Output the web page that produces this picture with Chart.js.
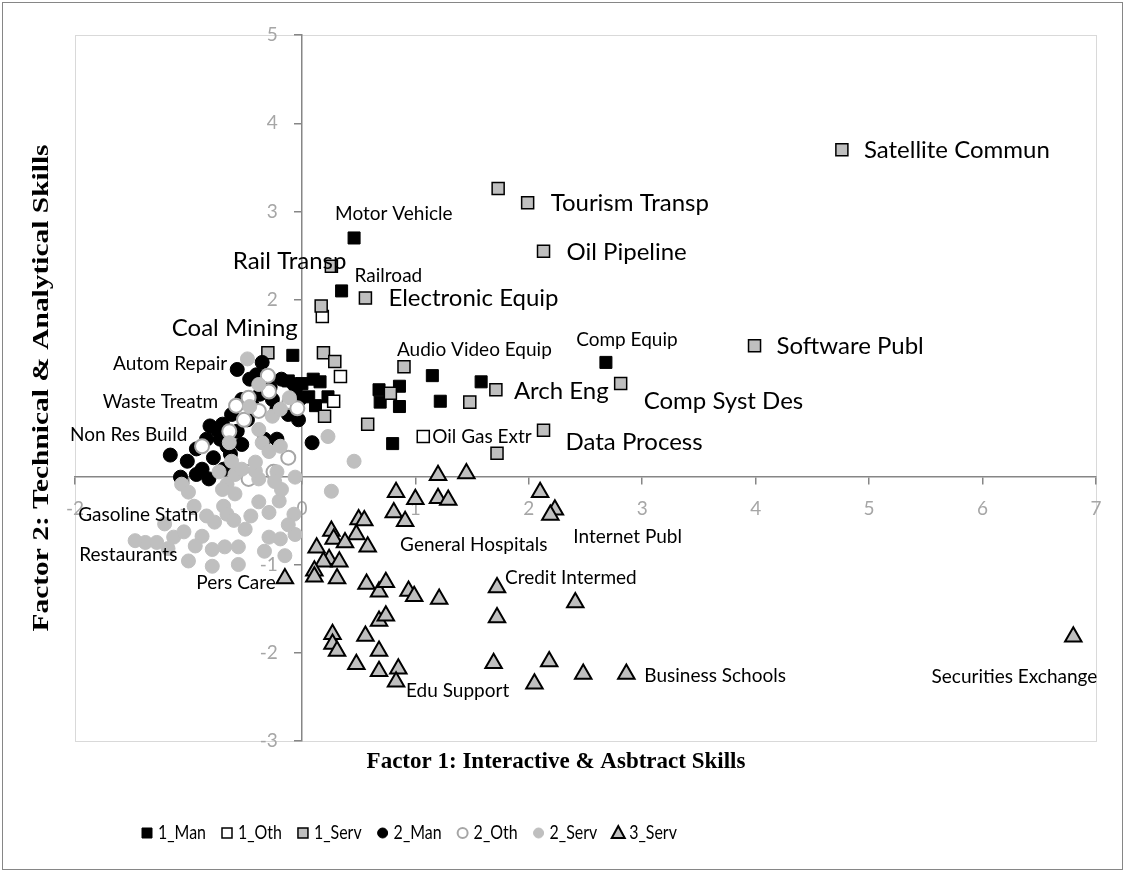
<!DOCTYPE html>
<html>
<head>
<meta charset="utf-8">
<script src="https://cdn.jsdelivr.net/npm/chart.js@4.4.0/dist/chart.umd.min.js"></script>
<style>
  body { margin: 0; background: #fff; }
</style>
</head>
<body>
<canvas id="chart" width="1125" height="872"></canvas>
<script>
// axis ranges
const xMin = -2, xMax = 7
const yMin = -3, yMax = 5

const seriesNames = ['1_Man', '1_Oth', '1_Serv', '2_Man', '2_Oth', '2_Serv', '3_Serv']

// [factor1, factor2] per industry
const man1 = [[0.46,2.70],[0.35,2.10],[-0.08,1.37],[-0.12,1.08],[0.00,1.05],[0.10,1.10],[0.16,1.07],[0.06,0.90],
  [0.12,0.80],[0.23,0.90],[-0.05,0.95],[0.68,0.98],[0.86,1.02],[0.69,0.84],[0.86,0.79],[1.15,1.14],[1.22,0.85],
  [1.58,1.07],[0.80,0.37],[2.68,1.29]]
const oth1 = [[0.18,1.81],[0.34,1.13],[0.28,0.85],[1.07,0.45]]
const serv1 = [[4.76,3.70],[1.73,3.26],[1.99,3.10],[2.13,2.55],[0.26,2.38],[0.56,2.02],[0.17,1.93],[3.99,1.48],
  [-0.30,1.40],[0.19,1.40],[0.29,1.30],[0.90,1.24],[0.78,0.94],[0.20,0.68],[0.58,0.59],[1.71,0.98],[1.48,0.84],
  [2.81,1.05],[2.13,0.52],[1.72,0.26]]
const man2 = [[-0.57,1.21],[-0.35,1.29],[-1.16,0.24],[0.09,0.38],[-0.22,0.42],[-1.07,-0.01],[-0.82,-0.03],[-0.81,0.57],
  [-1.01,0.17],[-0.93,0.31],[-0.84,0.42],[-0.75,0.53],[-0.88,0.08],[-0.78,0.21],[-0.66,0.34],[-0.57,0.51],[-0.48,0.64],
  [-0.44,0.81],[-0.37,0.93],[-0.28,1.01],[-0.53,0.87],[-0.62,0.70],[-0.70,0.59],[-0.46,1.10],[-0.26,0.87],[-0.18,1.10],
  [-0.22,0.76],[-0.09,0.81],[-0.40,1.15],[-0.63,0.25],[-0.53,0.36],[-0.69,0.08],[-0.33,0.42],[-0.07,1.04],[-0.02,0.87],
  [-0.12,0.70],[-0.03,0.64],[-0.72,0.42],[-0.93,0.02]]
const oth2 = [[-0.30,1.14],[-0.58,0.80],[-0.47,0.89],[-0.51,0.64],[-0.38,0.74],[-0.11,0.84],[-0.64,0.51],[-0.88,0.34],
  [-0.12,0.21],[-0.46,0.05],[-0.25,0.05],[-0.04,0.77],[-0.47,-0.03],[-0.29,0.96]]
const serv2 = [[-1.06,-0.09],[-1.00,-0.18],[-0.66,-0.09],[-0.59,-0.20],[-0.69,-0.34],[-0.66,-0.43],[-0.77,-0.52],
  [-1.21,-0.54],[-0.95,-0.34],[-1.38,-0.75],[-1.28,-0.75],[-1.13,-0.69],[-1.04,-0.63],[-0.88,-0.68],[-0.94,-0.79],
  [-0.79,-0.83],[-0.68,-0.80],[-0.56,-0.80],[-1.00,-0.96],[-0.79,-1.02],[-0.56,-1.00],[-0.50,-0.60],[-0.38,-0.29],
  [-0.29,-0.41],[-0.20,-0.28],[-0.29,-0.69],[-0.19,-0.71],[-0.06,-0.66],[-0.07,-0.43],[-0.18,-0.15],[-0.38,-0.03],
  [-0.22,0.05],[-0.06,-0.01],[0.26,-0.17],[-0.59,0.02],[-0.41,0.06],[0.23,0.45],[0.46,0.17],[-0.48,1.33],[-0.38,1.04],
  [-0.46,0.79],[-0.26,0.68],[-0.19,0.76],[-0.11,0.89],[-0.38,0.53],[-0.35,0.38],[-0.29,0.28],[-0.19,0.34],[-0.41,0.16],
  [-0.53,0.08],[-0.73,0.05],[-0.62,0.17],[-0.24,-0.06],[-0.70,-0.15],[-0.64,0.38],[-1.47,-0.73],[-0.84,-0.45],
  [-0.45,-0.45],[-0.12,-0.55],[-0.33,-0.85],[-0.60,-0.50],[-0.15,-0.90],[-1.18,-0.82]]
const serv3 = [[1.20,0.01],[1.45,0.03],[0.83,-0.18],[1.00,-0.26],[1.20,-0.25],[1.29,-0.27],[0.81,-0.41],[0.91,-0.51],
  [0.50,-0.49],[0.55,-0.50],[0.26,-0.62],[0.48,-0.66],[0.28,-0.71],[0.38,-0.75],[0.58,-0.80],[0.13,-0.81],[0.24,-0.94],
  [0.19,-0.97],[0.33,-0.97],[0.11,-1.07],[0.11,-1.14],[0.31,-1.16],[-0.15,-1.16],[0.57,-1.22],[0.68,-1.31],[0.74,-1.20],
  [0.94,-1.30],[0.99,-1.36],[1.21,-1.39],[0.68,-1.64],[0.74,-1.58],[0.27,-1.79],[0.56,-1.81],[0.27,-1.90],[0.31,-1.98],
  [0.68,-1.98],[0.48,-2.13],[0.68,-2.21],[0.85,-2.18],[0.83,-2.33],[2.10,-0.18],[2.23,-0.38],[2.19,-0.44],[1.72,-1.26],
  [2.41,-1.43],[1.72,-1.60],[1.69,-2.12],[2.18,-2.10],[2.05,-2.35],[2.48,-2.24],[2.86,-2.24],[6.80,-1.82]]

// industry names: [series, index of point, text]
const pointNames = [
  ['1_Serv', 0, 'Satellite Commun'], ['1_Serv', 2, 'Tourism Transp'], ['1_Serv', 3, 'Oil Pipeline'],
  ['1_Man', 0, 'Motor Vehicle'], ['1_Serv', 4, 'Rail Transp'], ['1_Man', 1, 'Railroad'],
  ['1_Serv', 5, 'Electronic Equip'], ['1_Man', 2, 'Coal Mining'], ['1_Man', 19, 'Comp Equip'],
  ['1_Serv', 7, 'Software Publ'], ['2_Man', 0, 'Autom Repair'], ['1_Serv', 11, 'Audio Video Equip'],
  ['1_Serv', 15, 'Arch Eng'], ['1_Serv', 17, 'Comp Syst Des'], ['2_Oth', 1, 'Waste Treatm'],
  ['1_Oth', 3, 'Oil Gas Extr'], ['1_Serv', 18, 'Data Process'], ['2_Man', 2, 'Non Res Build'],
  ['2_Serv', 1, 'Gasoline Statn'], ['2_Serv', 9, 'Restaurants'], ['3_Serv', 22, 'Pers Care'],
  ['3_Serv', 7, 'General Hospitals'], ['3_Serv', 42, 'Internet Publ'], ['3_Serv', 43, 'Credit Intermed'],
  ['3_Serv', 50, 'Business Schools'], ['3_Serv', 51, 'Securities Exchange'], ['3_Serv', 39, 'Edu Support']
]

const xTitle = 'Factor 1: Interactive & Asbtract Skills'
const yTitle = 'Factor 2: Technical & Analytical Skills'

// label placement: size, text align, pixel offset from the point
const labelPlace = [
  ['big', 'left', 22, 1], ['big', 'left', 23, 1], ['big', 'left', 23, 1],
  ['small', 'left', -19, -24], ['big', 'right', 15, -5], ['small', 'left', 13, -15],
  ['big', 'left', 23, 0], ['big', 'right', 5, -27], ['small', 'center', 21, -23],
  ['big', 'left', 22, 1], ['small', 'right', -10, -6], ['small', 'left', -7, -17],
  ['big', 'left', 18, 2], ['big', 'left', 23, 18], ['small', 'right', -18, -4],
  ['small', 'left', 9, 0], ['big', 'left', 22, 12], ['small', 'right', 17, -20],
  ['small', 'right', 10, 23], ['small', 'center', -17, 12], ['small', 'right', -9, 4],
  ['small', 'left', -5, 24], ['small', 'left', 23, 22], ['small', 'left', 8, -10],
  ['small', 'left', 18, 2], ['small', 'right', 24, 40], ['small', 'left', 10, 9]
]

const styles = {
  '1_Man':  { pointStyle: 'rect', radius: 8.5, bg: '#000000', border: '#000000', bw: 1 },
  '1_Oth':  { pointStyle: 'rect', radius: 8.5, bg: '#FFFFFF', border: '#000000', bw: 1.5 },
  '1_Serv': { pointStyle: 'rect', radius: 8.5, bg: '#BFBFBF', border: '#000000', bw: 1.5 },
  '2_Man':  { pointStyle: 'circle', radius: 7, bg: '#000000', border: '#000000', bw: 1 },
  '2_Oth':  { pointStyle: 'circle', radius: 7, bg: '#FFFFFF', border: '#A6A6A6', bw: 2 },
  '2_Serv': { pointStyle: 'circle', radius: 7, bg: '#BFBFBF', border: '#BFBFBF', bw: 1 },
  '3_Serv': { pointStyle: 'triangle', radius: 9.5, bg: '#BFBFBF', border: '#000000', bw: 2 }
}

const seriesData = [man1, oth1, serv1, man2, oth2, serv2, serv3]
const labelFont = 'Lato'
const tickColor = '#A6A6A6'

const datasets = seriesNames.map((name, i) => {
  const s = styles[name]
  return {
    label: name,
    data: seriesData[i].map(p => ({ x: p[0], y: p[1] })),
    pointStyle: s.pointStyle,
    pointRadius: s.radius,
    pointBackgroundColor: s.bg,
    pointBorderColor: s.border,
    pointBorderWidth: s.bw,
    showLine: false,
    order: seriesNames.length - i   // first series at the bottom, like excel
  }
})

//background, plot frame, y tick labels (chart.js puts them on the axis line when it sits at x=0)
const framePlugin = {
  id: 'framePlugin',
  beforeDraw(chart) {
    const ctx = chart.ctx
    const a = chart.chartArea
    ctx.save()
    ctx.fillStyle = '#fff'
    ctx.fillRect(0, 0, chart.width, chart.height)
    ctx.strokeStyle = '#D9D9D9'
    ctx.lineWidth = 1
    ctx.strokeRect(a.left + 0.5, a.top + 0.5, a.right - a.left, a.bottom - a.top)
    ctx.restore()
  },
  beforeDatasetsDraw(chart) {
    const ctx = chart.ctx
    const ys = chart.scales.y
    const axisX = chart.scales.x.getPixelForValue(0)
    ctx.save()
    ctx.fillStyle = tickColor
    ctx.font = '19px ' + labelFont
    ctx.textAlign = 'right'
    ctx.textBaseline = 'middle'
    ys.ticks.forEach(t => {
      ctx.fillText(String(t.value), axisX - 24, ys.getPixelForValue(t.value))
    })
    ctx.restore()
  }
}

// industry names next to their points
const namePlugin = {
  id: 'namePlugin',
  afterDatasetsDraw(chart) {
    const ctx = chart.ctx
    ctx.save()
    ctx.fillStyle = '#000'
    ctx.textBaseline = 'middle'
    pointNames.forEach((n, k) => {
      const dsIndex = seriesNames.indexOf(n[0])
      const el = chart.getDatasetMeta(dsIndex).data[n[1]]
      if (!el) return
      const pl = labelPlace[k]
      ctx.font = (pl[0] === 'big' ? '24px ' : '19px ') + labelFont
      ctx.textAlign = pl[1]
      ctx.fillText(n[2], el.x + pl[2], el.y + pl[3])
    })
    ctx.restore()
  }
}

// axis titles, legend and outer border
const extrasPlugin = {
  id: 'extrasPlugin',
  afterDraw(chart) {
    const ctx = chart.ctx
    const a = chart.chartArea
    ctx.save()
    ctx.fillStyle = '#000'
    ctx.font = 'bold 23px "Liberation Serif"'
    ctx.textAlign = 'center'
    ctx.textBaseline = 'middle'
    ctx.fillText(xTitle, 556, 762)
    // the original's vertical title runs longer than the horizontal one
    ctx.translate(42, (a.top + a.bottom) / 2)
    ctx.rotate(-Math.PI / 2)
    ctx.scale(1.28, 1)
    ctx.fillText(yTitle, 0, 0)
    ctx.restore()

    // legend, text a bit narrow like the original
    ctx.save()
    ctx.font = '19px ' + labelFont
    ctx.textBaseline = 'middle'
    ctx.textAlign = 'left'
    const squeeze = 0.84
    let x = 147
    const y = 833
    seriesNames.forEach(name => {
      const s = styles[name]
      ctx.fillStyle = s.bg
      ctx.strokeStyle = s.border
      ctx.lineWidth = s.bw
      ctx.beginPath()
      if (s.pointStyle === 'rect') {
        ctx.rect(x - 5, y - 5, 10, 10)
      } else if (s.pointStyle === 'circle') {
        ctx.arc(x, y, 5, 0, Math.PI * 2)
      } else {
        ctx.moveTo(x, y - 7)
        ctx.lineTo(x + 6.5, y + 5)
        ctx.lineTo(x - 6.5, y + 5)
        ctx.closePath()
      }
      ctx.fill()
      ctx.stroke()
      ctx.fillStyle = '#000'
      ctx.save()
      ctx.translate(x + 11, y)
      ctx.scale(squeeze, 1)
      ctx.fillText(name, 0, 0)
      ctx.restore()
      x = x + 11 + ctx.measureText(name).width * squeeze + 21
    })
    ctx.restore()

    ctx.save()
    ctx.strokeStyle = '#868686'
    ctx.lineWidth = 1
    ctx.strokeRect(2.5, 2.5, chart.width - 5, chart.height - 5)
    ctx.restore()
  }
}

new Chart(document.getElementById('chart'), {
  type: 'scatter',
  data: { datasets: datasets },
  options: {
    responsive: false,
    animation: false,
    layout: { padding: { left: 75, top: 35, right: 29, bottom: 131 } },
    plugins: {
      legend: { display: false },
      tooltip: { enabled: false }
    },
    scales: {
      x: {
        type: 'linear',
        min: xMin, max: xMax,
        position: { y: 0 },
        grid: { drawOnChartArea: false, drawTicks: true, tickLength: 7, color: '#868686', lineWidth: 1.5 },
        border: { color: '#868686', width: 1.5 },
        ticks: { stepSize: 1, color: tickColor, font: { family: labelFont, size: 19 }, padding: 14, maxRotation: 0 }
      },
      y: {
        type: 'linear',
        min: yMin, max: yMax,
        position: { x: 0 },
        grid: { drawOnChartArea: false, drawTicks: true, tickLength: 7, color: '#868686', lineWidth: 1.5 },
        border: { color: '#868686', width: 1.5 },
        ticks: { stepSize: 1, color: 'rgba(0,0,0,0)', font: { family: labelFont, size: 19 } }
      }
    }
  },
  plugins: [framePlugin, namePlugin, extrasPlugin]
})
</script>
</body>
</html>
